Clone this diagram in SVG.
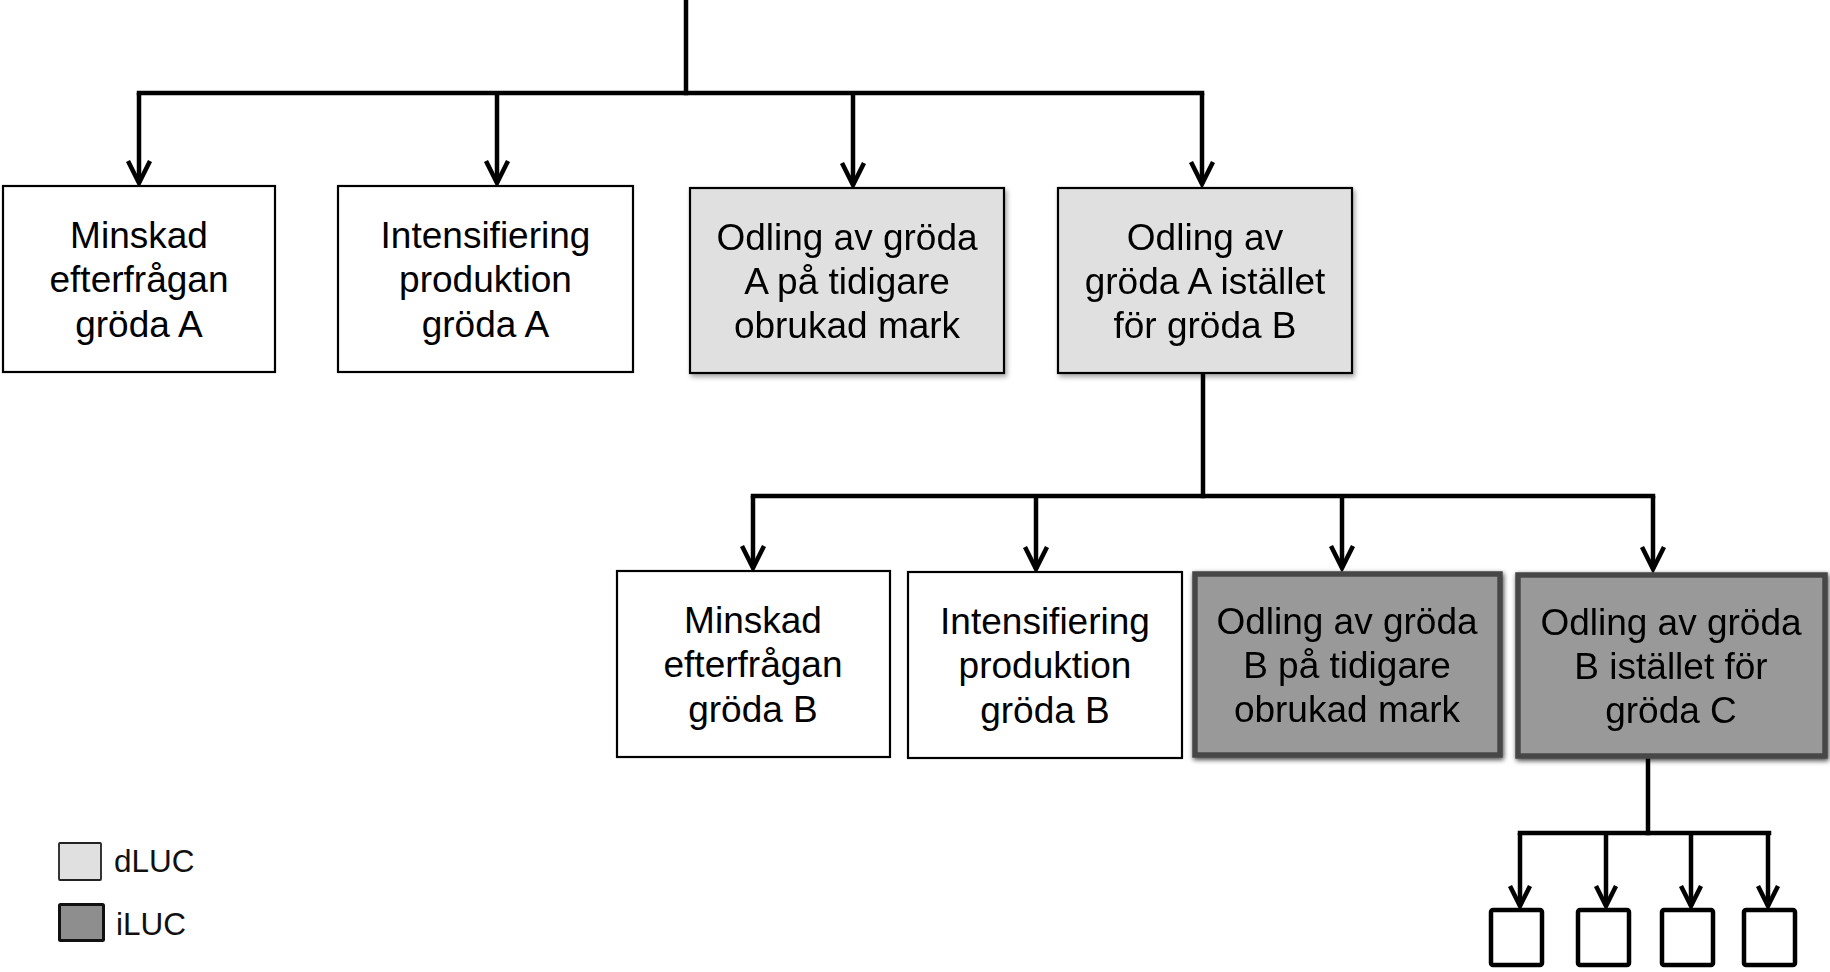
<svg xmlns="http://www.w3.org/2000/svg" width="1830" height="972" viewBox="0 0 1830 972">
<style>
  .lbl { font-family: "Liberation Sans", Arial, sans-serif; font-size: 37px; fill: #000; text-anchor: middle; }
  .leg { font-family: "Liberation Sans", Arial, sans-serif; font-size: 31.5px; fill: #111; }
  .white { fill: #fff; stroke: #000; stroke-width: 2.2; }
  .light { fill: #e0e0e0; stroke: #000; stroke-width: 2.2; }
  .dark { fill: #999; stroke: #474747; stroke-width: 5.5; }
  .small { fill: #fff; stroke: #000; stroke-width: 4.5; }
  .line { fill: none; stroke: #000; stroke-width: 4.5; stroke-linecap: square; stroke-linejoin: miter; }
  .drop { fill: none; stroke: #000; stroke-width: 4.5; }
</style>
<defs>
  <marker id="chev" markerUnits="userSpaceOnUse" viewBox="-30 -16 34 32" refX="0" refY="0" markerWidth="34" markerHeight="32" orient="auto">
    <path d="M-22,-11 L0,0 L-22,11" fill="none" stroke="#000" stroke-width="4.5" stroke-linejoin="miter"/>
  </marker>
  <marker id="chevS" markerUnits="userSpaceOnUse" viewBox="-28 -15 32 30" refX="0" refY="0" markerWidth="32" markerHeight="30" orient="auto">
    <path d="M-20,-10 L0,0 L-20,10" fill="none" stroke="#000" stroke-width="4.5" stroke-linejoin="miter"/>
  </marker>
  <filter id="shadow" x="-10%" y="-10%" width="120%" height="125%">
    <feGaussianBlur in="SourceAlpha" stdDeviation="2.5"/>
    <feOffset dx="2" dy="3" result="b"/>
    <feComponentTransfer><feFuncA type="linear" slope="0.35"/></feComponentTransfer>
    <feMerge><feMergeNode/><feMergeNode in="SourceGraphic"/></feMerge>
  </filter>
  <filter id="glow" x="-10%" y="-10%" width="120%" height="125%">
    <feGaussianBlur in="SourceAlpha" stdDeviation="2.5"/>
    <feOffset dx="1" dy="2" result="b"/>
    <feComponentTransfer><feFuncA type="linear" slope="0.75"/></feComponentTransfer>
    <feMerge><feMergeNode/><feMergeNode in="SourceGraphic"/></feMerge>
  </filter>
</defs>

<g id="connectors">
  <path class="line" d="M686,0 V93"/>
  <path class="line" d="M139,93 H1202"/>
  <path class="drop" d="M139,93 V183" marker-end="url(#chev)"/>
  <path class="drop" d="M497,93 V183" marker-end="url(#chev)"/>
  <path class="drop" d="M853,93 V185" marker-end="url(#chev)"/>
  <path class="drop" d="M1202,93 V184" marker-end="url(#chev)"/>

  <path class="line" d="M1203,375 V496"/>
  <path class="line" d="M753,496 H1653"/>
  <path class="drop" d="M753,496 V568" marker-end="url(#chev)"/>
  <path class="drop" d="M1036,496 V569" marker-end="url(#chev)"/>
  <path class="drop" d="M1342,496 V568" marker-end="url(#chev)"/>
  <path class="drop" d="M1653,496 V569" marker-end="url(#chev)"/>

  <path class="line" d="M1648,760 V833"/>
  <path class="line" d="M1520,833 H1769"/>
  <path class="drop" d="M1520,833 V906" marker-end="url(#chevS)"/>
  <path class="drop" d="M1606,833 V906" marker-end="url(#chevS)"/>
  <path class="drop" d="M1691,833 V906" marker-end="url(#chevS)"/>
  <path class="drop" d="M1768,833 V906" marker-end="url(#chevS)"/>
</g>

<g id="n1">
  <rect class="white" x="3" y="186" width="272" height="186"/>
  <text class="lbl" x="139" y="248">Minskad</text>
  <text class="lbl" x="139" y="292">efterfrågan</text>
  <text class="lbl" x="139" y="337">gröda A</text>
</g>
<g id="n2">
  <rect class="white" x="338" y="186" width="295" height="186"/>
  <text class="lbl" x="485.5" y="248">Intensifiering</text>
  <text class="lbl" x="485.5" y="292">produktion</text>
  <text class="lbl" x="485.5" y="337">gröda A</text>
</g>
<g id="n3" filter="url(#shadow)">
  <rect class="light" x="690" y="188" width="314" height="185"/>
  <text class="lbl" x="847" y="250">Odling av gröda</text>
  <text class="lbl" x="847" y="294">A på tidigare</text>
  <text class="lbl" x="847" y="338">obrukad mark</text>
</g>
<g id="n4" filter="url(#shadow)">
  <rect class="light" x="1058" y="188" width="294" height="185"/>
  <text class="lbl" x="1205" y="250">Odling av</text>
  <text class="lbl" x="1205" y="294">gröda A istället</text>
  <text class="lbl" x="1205" y="338">för gröda B</text>
</g>

<g id="n5">
  <rect class="white" x="617" y="571" width="273" height="186"/>
  <text class="lbl" x="753" y="633">Minskad</text>
  <text class="lbl" x="753" y="677">efterfrågan</text>
  <text class="lbl" x="753" y="722">gröda B</text>
</g>
<g id="n6">
  <rect class="white" x="908" y="572" width="274" height="186"/>
  <text class="lbl" x="1045" y="634">Intensifiering</text>
  <text class="lbl" x="1045" y="678">produktion</text>
  <text class="lbl" x="1045" y="723">gröda B</text>
</g>
<g id="n7" filter="url(#glow)">
  <rect class="dark" x="1195" y="574" width="305" height="181"/>
  <text class="lbl" x="1347" y="634">Odling av gröda</text>
  <text class="lbl" x="1347" y="678">B på tidigare</text>
  <text class="lbl" x="1347" y="722">obrukad mark</text>
</g>
<g id="n8" filter="url(#glow)">
  <rect class="dark" x="1518" y="575" width="307" height="181"/>
  <text class="lbl" x="1671" y="635">Odling av gröda</text>
  <text class="lbl" x="1671" y="679">B istället för</text>
  <text class="lbl" x="1671" y="723">gröda C</text>
</g>

<g id="s1"><rect class="small" x="1491" y="910" width="51" height="55" rx="2"/></g>
<g id="s2"><rect class="small" x="1578" y="910" width="51" height="55" rx="2"/></g>
<g id="s3"><rect class="small" x="1662" y="910" width="51" height="55" rx="2"/></g>
<g id="s4"><rect class="small" x="1744" y="910" width="51" height="55" rx="2"/></g>

<g id="legend">
  <rect x="59" y="843" width="42" height="37" fill="#e0e0e0" stroke="#222" stroke-width="1.8" rx="1"/>
  <text class="leg" x="114" y="872">dLUC</text>
  <rect x="59.5" y="904.5" width="44" height="36" fill="#8e8e8e" stroke="#111" stroke-width="3" rx="1"/>
  <text class="leg" x="116" y="935">iLUC</text>
</g>
</svg>
